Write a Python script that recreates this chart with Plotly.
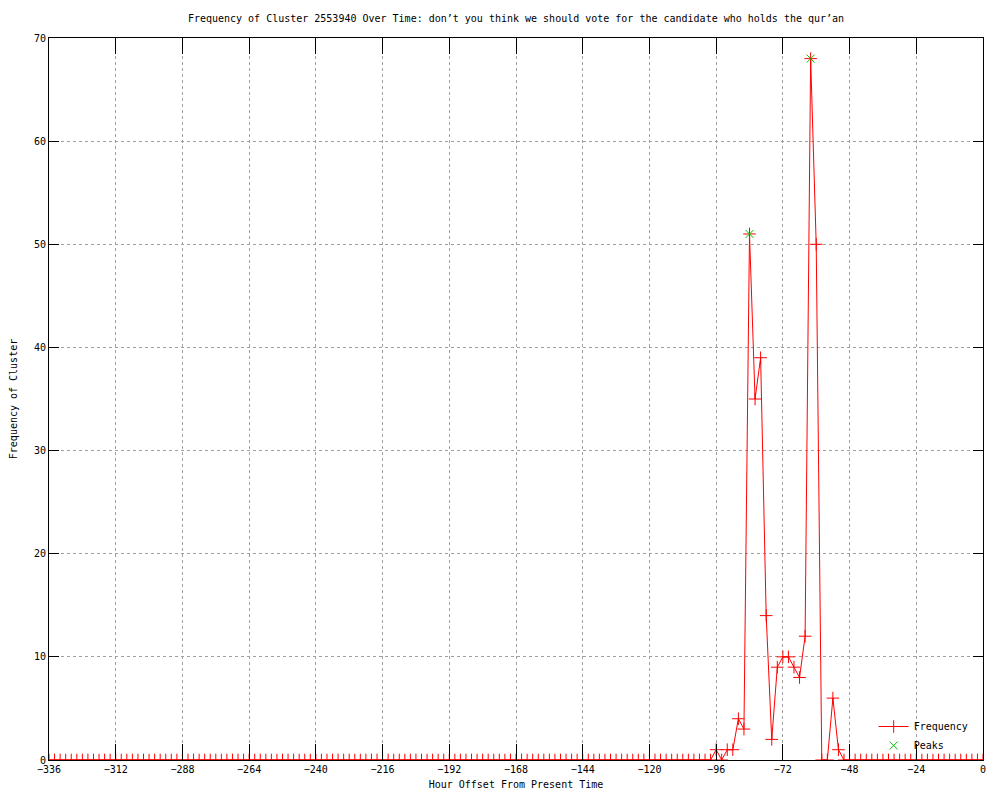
import plotly.graph_objects as go

# hour offsets, one sample every 2 hours
hours = list(range(-336, 1, 2))

freq = [
    0, 0, 0, 0, 0, 0, 0, 0, 0, 0, 0, 0, 0, 0, 0, 0, 0, 0, 0, 0,
    0, 0, 0, 0, 0, 0, 0, 0, 0, 0, 0, 0, 0, 0, 0, 0, 0, 0, 0, 0,
    0, 0, 0, 0, 0, 0, 0, 0, 0, 0, 0, 0, 0, 0, 0, 0, 0, 0, 0, 0,
    0, 0, 0, 0, 0, 0, 0, 0, 0, 0, 0, 0, 0, 0, 0, 0, 0, 0, 0, 0,
    0, 0, 0, 0, 0, 0, 0, 0, 0, 0, 0, 0, 0, 0, 0, 0, 0, 0, 0, 0,
    0, 0, 0, 0, 0, 0, 0, 0, 0, 0, 0, 0, 0, 0, 0, 0, 0, 0, 0, 0,
    # -96 .. -50
    1, 0, 1, 1, 4, 3, 51, 35, 39, 14, 2, 9, 10, 10, 9, 8, 12, 68, 50, 0,
    0, 6, 1, 0,
    # -48 .. 0
    0, 0, 0, 0, 0, 0, 0, 0, 0, 0, 0, 0, 0, 0, 0, 0, 0, 0, 0, 0,
    0, 0, 0, 0, 0,
]

peak_hours = [-84, -62]
peak_values = [51, 68]

mono = "DejaVu Sans Mono"

fig = go.Figure()

fig.add_trace(go.Scatter(
    x=hours, y=freq, name="Frequency", mode="lines+markers",
    line=dict(color="#ff0000", width=1),
    marker=dict(symbol="cross-thin-open", size=9, color="#ff0000",
                line=dict(color="#ff0000", width=1)),
))

fig.add_trace(go.Scatter(
    x=peak_hours, y=peak_values, name="Peaks", mode="markers",
    marker=dict(symbol="x-thin-open", size=8, color="#00c000",
                line=dict(color="#00c000", width=1)),
))

axis_common = dict(
    showline=True, mirror="ticks", linecolor="black", linewidth=1,
    ticks="inside", tickcolor="black", tickwidth=1,
    showgrid=True, gridcolor="#a0a0a0", griddash="dot", gridwidth=1,
    zeroline=False, tickfont=dict(family=mono, size=10, color="black"),
)

fig.update_layout(
    width=1000, height=800,
    margin=dict(l=49, r=17, t=38, b=40),
    paper_bgcolor="white", plot_bgcolor="white",
    font=dict(family=mono, size=10, color="black"),
    title=dict(
        text="Frequency of Cluster 2553940 Over Time: don\u2019t you think we should vote for the candidate who holds the qur\u2019an",
        xref="paper", x=0.5, xanchor="center", y=0.977, yanchor="middle",
        font=dict(family=mono, size=10, color="black"),
    ),
    xaxis=dict(
        range=[-336, 0], dtick=24, tick0=0, ticklen=16,
        title=dict(text="Hour Offset From Present Time", standoff=6,
                   font=dict(family=mono, size=10)),
        automargin=False, **axis_common,
    ),
    yaxis=dict(
        range=[0, 70], dtick=10, ticklen=10,
        title=dict(text="Frequency of Cluster", standoff=14,
                   font=dict(family=mono, size=10)),
        automargin=False, **axis_common,
    ),
    legend=dict(
        x=0.99, xanchor="right", y=0.0, yanchor="bottom",
        bgcolor="rgba(0,0,0,0)", font=dict(family=mono, size=10),
        tracegroupgap=0, itemwidth=30,
    ),
    showlegend=True,
)

# drop the page's default body margin so the figure sits at (0, 0)
fig.write_html("out.html", config={"displayModeBar": False},
               post_script="document.body.style.margin='0';")
